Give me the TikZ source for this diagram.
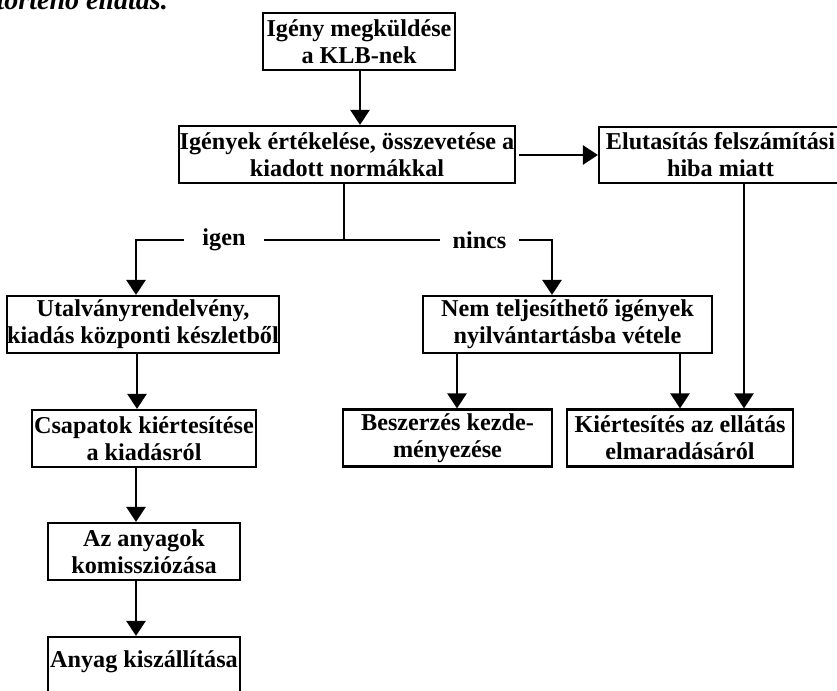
\documentclass[tikz,border=0pt]{standalone}
\usepackage{fontspec}
\setmainfont{Liberation Serif}
\usetikzlibrary{arrows.meta}
\begin{document}
\begin{tikzpicture}[x=1pt,y=-1pt,
  box/.style={draw, line width=2.2pt, inner sep=0pt, align=center,
    font=\fontsize{24.2}{27}\selectfont\bfseries},
  txt/.style={inner sep=0pt, align=center, font=\fontsize{24.2}{27}\selectfont\bfseries},
  lbl/.style={fill=white, inner sep=0pt, minimum height=20pt, font=\fontsize{24.2}{27}\selectfont\bfseries},
  ln/.style={line width=2.6pt},
  arr/.style={line width=2.6pt, -{Triangle[length=15pt,width=19pt]}}]
\useasboundingbox (0,0) rectangle (837,690);
\node[inner sep=0pt, anchor=base east, font=\fontsize{28}{32}\selectfont\bfseries\itshape] (hdr) at (168,9.5) {történő ellátás.};
\node[box, minimum width=192pt, minimum height=57pt] (b1) at (359,41.5) {Igény megküldése\\a KLB-nek};
\node[box, minimum width=336pt, minimum height=57pt] (b2) at (347,154.5) {Igények értékelése, összevetése a\\kiadott normákkal};
\node[box, minimum width=243pt, minimum height=56pt] (b3) at (720.5,155) {Elutasítás felszámítási\\hiba miatt};
\node[box, minimum width=272pt, minimum height=57pt] (b4) at (143,324.5) {Utalványrendelvény,\\kiadás központi készletből};
\node[box, minimum width=289pt, minimum height=57pt] (b5) at (567.5,324.5) {Nem teljesíthető igények\\nyilvántartásba vétele};
\node[box, minimum width=224pt, minimum height=57pt] (b6) at (144,438.5) {Csapatok kiértesítése\\a kiadásról};
\node[box, minimum width=192pt, minimum height=57pt] (b7) at (144,551.5) {Az anyagok\\komissziózása};
\node[box, minimum width=192pt, minimum height=83pt] (b8) at (144,678.5) {};
\node[txt, anchor=base] (b8t) at (144,667) {Anyag kiszállítása};
\node[box, minimum width=209pt, minimum height=57pt] (b9) at (447.5,438) {Beszerzés kezde-\\ményezése};
\node[box, minimum width=226pt, minimum height=57pt] (b10) at (680,438) {Kiértesítés az ellátás\\elmaradásáról};
% connectors
\coordinate (c1) at (360,0);
\draw[arr] (c1 |- b1.south) -- (c1 |- b2.north);
\coordinate (c2) at (519,155);
\draw[arr] (c2) -- (c2 -| b3.west);
\coordinate (s) at (344,240);
\coordinate (igc) at (136,240);
\coordinate (nic) at (552,240);
\draw[ln] (s |- b2.south) -- (s);
\draw[arr] (s) -- (igc) -- (igc |- b4.north);
\draw[arr] (s) -- (nic) -- (nic |- b5.north);
\node[lbl, minimum width=80pt] (igen) at (224,240) {igen};
\node[lbl, minimum width=79pt] (nincs) at (479.5,240) {nincs};
\coordinate (c3) at (137,0);
\draw[arr] (c3 |- b4.south) -- (c3 |- b6.north);
\coordinate (c4) at (136,0);
\draw[arr] (c4 |- b6.south) -- (c4 |- b7.north);
\draw[arr] (c4 |- b7.south) -- (c4 |- b8.north);
\coordinate (c5) at (457,0);
\draw[arr] (c5 |- b5.south) -- (c5 |- b9.north);
\coordinate (c6) at (680,0);
\draw[arr] (c6 |- b5.south) -- (c6 |- b10.north);
\coordinate (c7) at (744,0);
\draw[arr] (c7 |- b3.south) -- (c7 |- b10.north);
\end{tikzpicture}
\end{document}
